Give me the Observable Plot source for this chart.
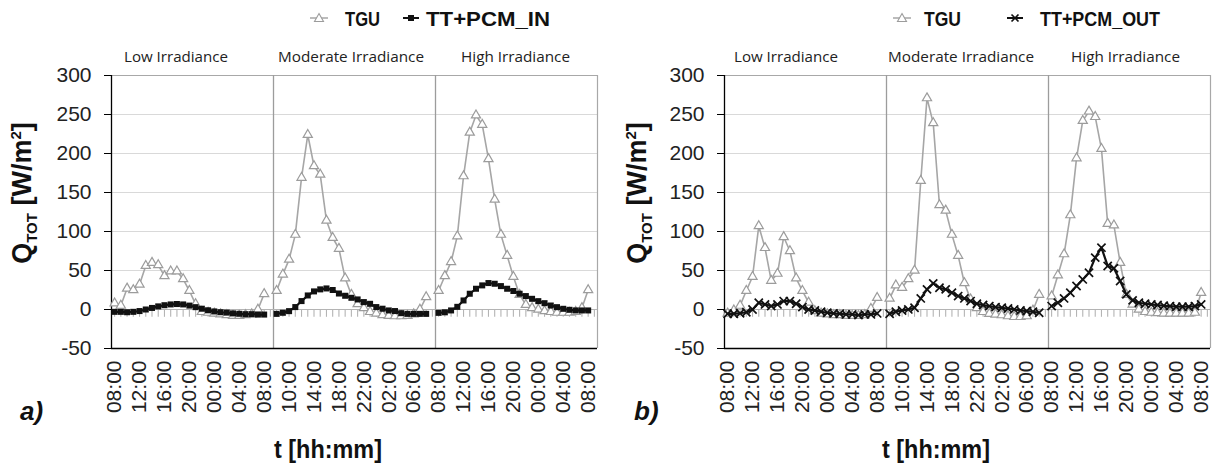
<!DOCTYPE html>
<html><head><meta charset="utf-8">
<script src="https://cdn.jsdelivr.net/npm/d3@7"></script>
<script src="https://cdn.jsdelivr.net/npm/@observablehq/plot@0.6"></script>
<style>
body{margin:0;background:#fff;}
#root{position:relative;width:1221px;height:465px;overflow:hidden;background:#fff;}
.panel{position:absolute;top:0;width:610px;height:465px;}
.panel svg{position:absolute;left:0;top:0;}
</style></head><body><div id="root"></div>
<script>
// ---- data ----
const tickLabels = ["08:00","12:00","16:00","20:00","00:00","04:00","08:00","10:00","14:00","18:00","22:00","02:00","06:00","08:00","12:00","16:00","20:00","00:00","04:00","08:00"];
const segmentNames = ["Low Irradiance","Moderate Irradiance","High Irradiance"];
const yTicks = [-50, 0, 50, 100, 150, 200, 250, 300];

// panel a) TGU
const tguA_low  = [8, 5, 27, 25, 32, 56, 60, 57, 43, 49, 49, 39, 24, 7, -3, -4, -5, -6, -7, -8, -8, -7, -6, 0, 20];
const tguA_mod  = [24, 45, 64, 96, 169, 224, 184, 173, 114, 92, 78, 40, 19, 7, 2, -3, -5, -7, -8, -8.5, -8.5, -8, -6, 0, 16];
const tguA_high = [24, 43, 61, 94, 171, 227, 249, 237, 193, 141, 96, 69, 42, 19, 6, 2, 0, -2, -3, -4, -4, -4, -3, 2, 25];
// panel a) TT+PCM_IN
const pcmIn_low  = [-3, -3, -3.5, -3, -2, 0, 2, 4, 5.5, 6.5, 7, 6.5, 5, 3, 1, -1, -2.5, -3.5, -4, -5, -5.5, -6, -6, -6.5, -6.5];
const pcmIn_mod  = [-5.6, -4.2, -2.1, 3.1, 10.8, 18, 23.2, 25.8, 27, 25, 20.5, 17.6, 15, 12.9, 9.5, 7.3, 3.1, 1, -1.2, -2, -4.7, -5.6, -5.6, -5.6, -5.6];
const pcmIn_high = [-4.3, -3.6, -1.2, 3.4, 11.6, 20.2, 26.6, 30.9, 33.9, 33, 30, 26.6, 23.7, 20.2, 17.2, 13.7, 10.7, 8.1, 5.1, 3, 0.9, -0.4, -1.2, -1.2, -1.2];
// panel b) TGU
const tguB_low  = [-5, -1, 5, 24, 42, 107, 79, 37, 46, 93, 75, 40, 24, 9, -2, -5, -6, -7, -7, -8, -8, -8, -7, 1, 15];
const tguB_mod  = [14, 31, 28, 39, 50, 165, 271, 239, 134, 127, 96, 69, 34, 13, 2, -3, -5.5, -6.3, -7.2, -8.5, -9.4, -9.4, -8.5, -1.2, 19];
const tguB_high = [17, 44, 71, 121, 194, 242, 254, 247, 206, 110, 108, 60, 19, 6.5, 0, -3, -4, -4.5, -5, -5, -5, -5, -5, -4, 21.5];
// panel b) TT+PCM_OUT
const pcmOut_low  = [-5.5, -5.5, -4.8, -3.5, 0, 8.7, 6.5, 4.4, 6.5, 10.8, 10.8, 7.4, 3.1, 0, -1.2, -2.9, -4.2, -5, -5.5, -6.3, -6.3, -7.2, -6.3, -6.3, -5];
const pcmOut_mod  = [-5.5, -2.9, -1.2, 0.1, 2.2, 14.2, 25.8, 33.5, 27.9, 25.8, 21.5, 17.2, 14.2, 10.8, 7.4, 5.7, 4.4, 3.1, 2.2, 1.3, 0.1, -1.2, -2, -2.9, -4.2];
const pcmOut_high = [4.4, 8.7, 14.2, 21.5, 30.1, 38.6, 47.2, 66.5, 79.3, 55.8, 52.8, 36.5, 19.4, 11.7, 8.7, 7.4, 6.5, 5.7, 4.8, 4.4, 3.6, 3.6, 3.6, 4.4, 6.5];

// ---- layout helpers ----
const SEG = 26;            // categories per segment (25 hourly points + 1 blank)
const NCAT = SEG * 3;
const xTickPos = tickLabels.map((_, k) => 4 * k + 0.5);
const minorPos = d3.range(NCAT).map(i => i + 0.5);
const boldFont = "'Liberation Sans Narrow','Liberation Sans',Arial,sans-serif";

function rowsOf(name, segs) {
  const out = [];
  segs.forEach((vals, s) => vals.forEach((v, j) => out.push({name, seg: s, x: s * SEG + j + 0.5, v})));
  return out;
}

function makePanel(cfg) {
  const panel = document.createElement("div");
  panel.className = "panel";
  panel.style.left = cfg.left + "px";
  document.getElementById("root").appendChild(panel);

  const tgu = rowsOf("TGU", cfg.tgu);
  const pcm = rowsOf(cfg.pcmName, cfg.pcm);
  const pcmDot = cfg.pcmSymbol === "square"
    ? Plot.dot(pcm, {x: "x", y: "v", symbol: "square", r: 3.4, fill: "#111", stroke: "none"})
    : Plot.dot(pcm, {x: "x", y: "v", symbol: "times", r: 3.8, stroke: "#111", strokeWidth: 1.7, fill: "none"});

  const chart = Plot.plot({
    width: 610, height: 465,
    marginLeft: cfg.mL, marginRight: cfg.mR, marginTop: 75, marginBottom: 117,
    x: {domain: [0, NCAT], axis: null},
    y: {domain: [-50, 300], axis: null},
    style: {fontFamily: "'Liberation Sans',Arial,sans-serif", background: "transparent", color: "#222", overflow: "visible"},
    marks: [
      Plot.gridY(yTicks.filter(t => t > -50 && t < 300), {stroke: "#d9d9d9", strokeOpacity: 1, strokeWidth: 1.2}),
      Plot.ruleY([300], {stroke: "#a8a8a8", strokeWidth: 1.2}),
      Plot.ruleX([NCAT], {stroke: "#a8a8a8", strokeWidth: 1.2}),
      Plot.ruleX([SEG, 2 * SEG], {stroke: "#9c9c9c", strokeWidth: 1.3}),
      Plot.ruleY([0], {stroke: "#b4b4b4", strokeWidth: 1.2}),
      Plot.ruleX(minorPos, {y1: 0, y2: -10, stroke: "#b4b4b4", strokeWidth: 1.1}),
      Plot.axisY({ticks: yTicks, tickFormat: d => String(d), tickSize: 7, tickPadding: 13, fontSize: 21, label: null, stroke: "#000", fill: "#222"}),
      Plot.ruleX([0], {stroke: "#000", strokeWidth: 1.3}),
      Plot.ruleY([-50], {stroke: "#000", strokeWidth: 1.3}),
      Plot.axisX({ticks: xTickPos, tickFormat: d => tickLabels[Math.round((d - 0.5) / 4)], tickRotate: -90,
                  tickSize: 0, tickPadding: 12, fontSize: 21, label: null, fill: "#222"}),
      Plot.line(tgu, {x: "x", y: "v", z: "seg", stroke: "#a6a6a6", strokeWidth: 1.6}),
      Plot.dot(tgu, {x: "x", y: "v", symbol: "triangle", r: 3.4, fill: "white", stroke: "#9c9c9c", strokeWidth: 1.2}),
      Plot.line(pcm, {x: "x", y: "v", z: "seg", stroke: "#111", strokeWidth: 2.2}),
      pcmDot
    ]
  });
  panel.appendChild(chart);

  // annotation overlay (legend, segment titles, axis titles, panel letter)
  const ns = "http://www.w3.org/2000/svg";
  const ov = document.createElementNS(ns, "svg");
  ov.setAttribute("width", 610); ov.setAttribute("height", 465);
  ov.style.pointerEvents = "none";
  const segX = [124, 278, 461], segW = [104, 146, 109];
  let s = "";
  segmentNames.forEach((n, i) => {
    s += `<text x="${segX[i]}" y="62" font-family="'Open Sans',Lato,sans-serif" font-size="14.5" fill="#222" textLength="${segW[i]}" lengthAdjust="spacingAndGlyphs">${n}</text>`;
  });
  const L = cfg.legend;
  // TGU legend item
  s += `<line x1="${L.m1 - 9}" x2="${L.m1 + 9}" y1="18" y2="18" stroke="#a6a6a6" stroke-width="1.5"/>`;
  s += `<path d="M${L.m1},${18 - 4.5}L${L.m1 + 4.5},${18 + 3.5}L${L.m1 - 4.5},${18 + 3.5}Z" fill="#fff" stroke="#9c9c9c" stroke-width="1.1"/>`;
  s += `<text x="${L.t1}" y="26" font-family="${boldFont}" font-weight="bold" font-size="21" fill="#111" textLength="${L.w1}" lengthAdjust="spacingAndGlyphs">TGU</text>`;
  // PCM legend item
  s += `<line x1="${L.m2 - 8}" x2="${L.m2 + 8}" y1="18" y2="18" stroke="#111" stroke-width="2"/>`;
  if (cfg.pcmSymbol === "square") {
    s += `<rect x="${L.m2 - 3}" y="15" width="6" height="6" fill="#111"/>`;
  } else {
    s += `<path d="M${L.m2 - 3.5},14.5L${L.m2 + 3.5},21.5M${L.m2 - 3.5},21.5L${L.m2 + 3.5},14.5" stroke="#111" stroke-width="1.6"/>`;
  }
  s += `<text x="${L.t2}" y="26" font-family="${boldFont}" font-weight="bold" font-size="21" fill="#111" textLength="${L.w2}" lengthAdjust="spacingAndGlyphs">${cfg.pcmName}</text>`;
  // y title
  s += `<text transform="translate(${cfg.ylabX},193) rotate(-90)" text-anchor="middle" font-family="${boldFont}" font-weight="bold" fill="#111" font-size="27">` +
       `<tspan>Q</tspan><tspan font-size="15" dy="6">TOT</tspan><tspan dy="-6" font-size="27">    [W/m</tspan><tspan font-size="15" dy="-10">2</tspan><tspan font-size="27" dy="10">]</tspan></text>`;
  // x title
  s += `<text x="${cfg.xlabX}" y="458" text-anchor="middle" font-family="${boldFont}" font-weight="bold" font-size="25" fill="#111" textLength="108" lengthAdjust="spacingAndGlyphs">t [hh:mm]</text>`;
  // panel letter
  s += `<text x="${cfg.letterX}" y="420" font-family="${boldFont}" font-weight="bold" font-style="italic" font-size="26" fill="#111">${cfg.letter}</text>`;
  ov.innerHTML = s;
  panel.appendChild(ov);
}

makePanel({
  left: 0, mL: 111, mR: 13,
  tgu: [tguA_low, tguA_mod, tguA_high],
  pcm: [pcmIn_low, pcmIn_mod, pcmIn_high],
  pcmName: "TT+PCM_IN", pcmSymbol: "square",
  legend: {m1: 319, t1: 345, w1: 35, m2: 411, t2: 426, w2: 124},
  ylabX: 31, xlabX: 328, letter: "a)", letterX: 20
});
makePanel({
  left: 610, mL: 114, mR: 10,
  tgu: [tguB_low, tguB_mod, tguB_high],
  pcm: [pcmOut_low, pcmOut_mod, pcmOut_high],
  pcmName: "TT+PCM_OUT", pcmSymbol: "times",
  legend: {m1: 292, t1: 314, w1: 37, m2: 405, t2: 430, w2: 120},
  ylabX: 36, xlabX: 326, letter: "b)", letterX: 24
});
</script></body></html>
